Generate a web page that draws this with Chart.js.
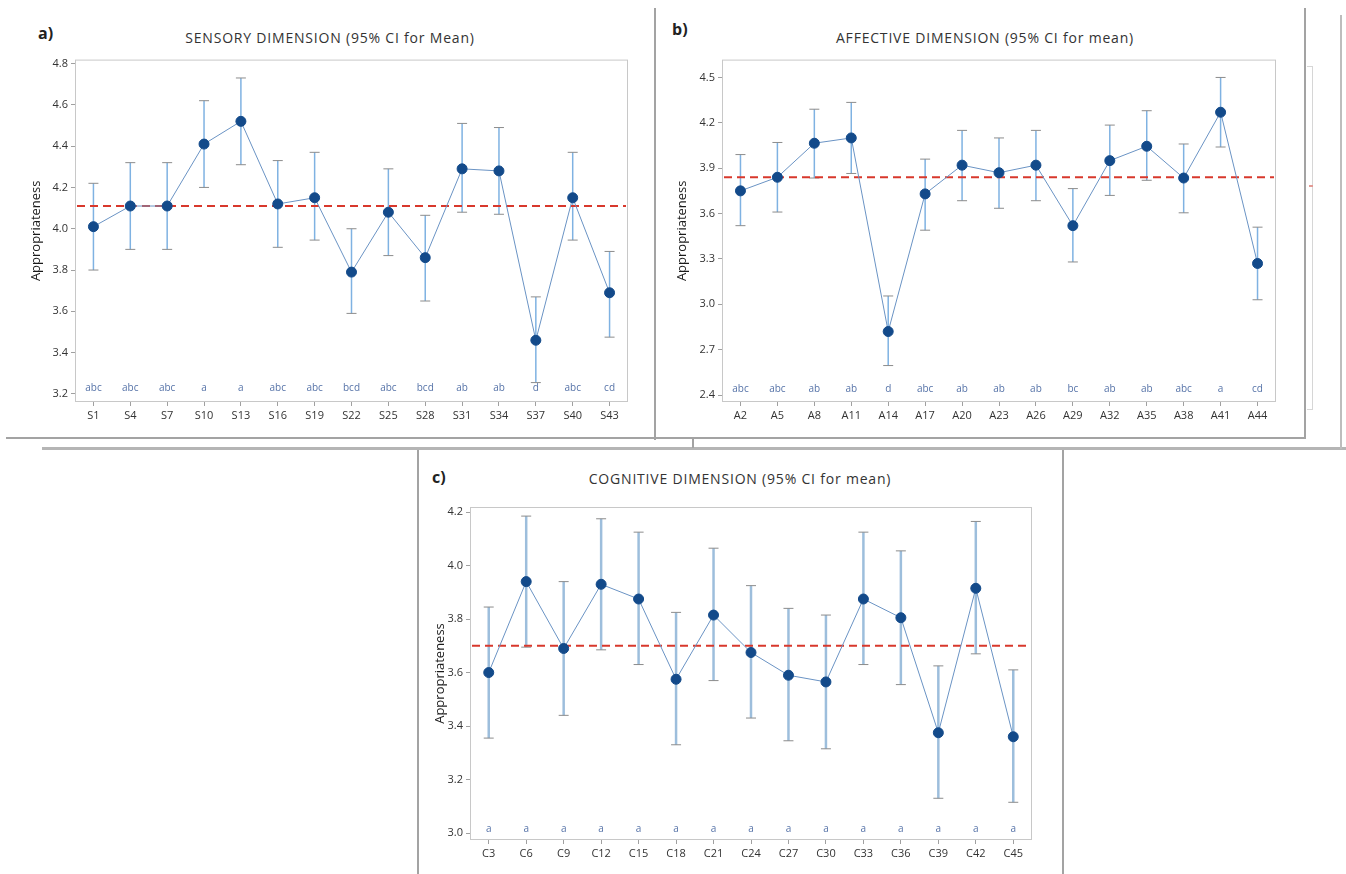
<!DOCTYPE html>
<html>
<head>
<meta charset="utf-8">
<script src="https://cdn.jsdelivr.net/npm/chart.js@4.4.1/dist/chart.umd.min.js"></script>
<style>
  html, body { margin: 0; padding: 0; background: #fff; }
  body { width: 1346px; height: 874px; position: relative; overflow: hidden; font-family: 'Open Sans', 'Noto Sans', sans-serif; }
  .ln { position: absolute; background: #a3a3a3; }
  .lt { position: absolute; background: #d6d6d6; }
  .tag { position: absolute; font-size: 16px; font-weight: bold; color: #222; }
  .ttl { position: absolute; font-size: 14px; letter-spacing: 0.8px; color: #333; text-align: center; white-space: nowrap; }
  .box { position: absolute; }
</style>
</head>
<body>

<!-- window frames of the composite -->
<div class="ln" style="left:654px;top:8px;width:2px;height:432px"></div>
<div class="ln" style="left:6px;top:437px;width:1300px;height:2px"></div>
<div class="ln" style="left:1304px;top:8px;width:2px;height:431px"></div>
<div class="ln" style="left:42px;top:447px;width:1304px;height:3px;background:#b5b5b5"></div>
<div class="ln" style="left:692px;top:439px;width:2px;height:9px"></div>
<div class="ln" style="left:1340px;top:15px;width:2px;height:434px;background:#bdbdbd"></div>
<div class="lt" style="left:1312px;top:66px;width:1px;height:344px"></div>
<div class="lt" style="left:1307px;top:66px;width:6px;height:1px"></div>
<div class="lt" style="left:1307px;top:409px;width:6px;height:1px"></div>
<div class="ln" style="left:1309px;top:185px;width:4px;height:2px;background:#e39a94"></div>
<div class="ln" style="left:417px;top:450px;width:2px;height:424px"></div>
<div class="ln" style="left:1062px;top:450px;width:2px;height:424px"></div>

<div class="tag" style="left:38px;top:22px">a)</div>
<div class="ttl" style="left:130px;top:28px;width:400px">SENSORY DIMENSION (95% CI for Mean)</div>
<div class="tag" style="left:672px;top:18px">b)</div>
<div class="ttl" style="left:785px;top:28px;width:400px">AFFECTIVE DIMENSION (95% CI for mean)</div>
<div class="tag" style="left:432px;top:466px">c)</div>
<div class="ttl" style="left:540px;top:469px;width:400px">COGNITIVE DIMENSION (95% CI for mean)</div>

<div class="box" style="left:25px;top:50px;width:615px;height:380px"><canvas id="chartA"></canvas></div>
<div class="box" style="left:671px;top:50px;width:619px;height:380px"><canvas id="chartB"></canvas></div>
<div class="box" style="left:425px;top:495px;width:620px;height:379px"><canvas id="chartC"></canvas></div>

<script>
// a) sensory
const sensoryItems = ['S1', 'S4', 'S7', 'S10', 'S13', 'S16', 'S19', 'S22', 'S25', 'S28', 'S31', 'S34', 'S37', 'S40', 'S43'];
const sensoryMean = [4.01, 4.11, 4.11, 4.41, 4.52, 4.12, 4.15, 3.79, 4.08, 3.86, 4.29, 4.28, 3.46, 4.15, 3.69];
const sensoryLower = [3.80, 3.90, 3.90, 4.20, 4.31, 3.91, 3.945, 3.59, 3.87, 3.65, 4.08, 4.07, 3.255, 3.945, 3.475];
const sensoryUpper = [4.22, 4.32, 4.32, 4.62, 4.73, 4.33, 4.37, 4.00, 4.29, 4.065, 4.51, 4.49, 3.67, 4.37, 3.89];
const sensoryGroups = ['abc', 'abc', 'abc', 'a', 'a', 'abc', 'abc', 'bcd', 'abc', 'bcd', 'ab', 'ab', 'd', 'abc', 'cd'];
const sensoryGrand = 4.11;
const sensoryTicks = [3.2, 3.4, 3.6, 3.8, 4.0, 4.2, 4.4, 4.6, 4.8];

// b) affective
const affectiveItems = ['A2', 'A5', 'A8', 'A11', 'A14', 'A17', 'A20', 'A23', 'A26', 'A29', 'A32', 'A35', 'A38', 'A41', 'A44'];
const affectiveMean = [3.75, 3.84, 4.065, 4.10, 2.82, 3.73, 3.92, 3.87, 3.92, 3.52, 3.95, 4.045, 3.835, 4.27, 3.27];
const affectiveLower = [3.52, 3.61, 3.835, 3.865, 2.595, 3.49, 3.685, 3.635, 3.685, 3.28, 3.72, 3.82, 3.605, 4.04, 3.03];
const affectiveUpper = [3.99, 4.07, 4.29, 4.335, 3.055, 3.96, 4.15, 4.10, 4.15, 3.765, 4.185, 4.28, 4.06, 4.50, 3.51];
const affectiveGroups = ['abc', 'abc', 'ab', 'ab', 'd', 'abc', 'ab', 'ab', 'ab', 'bc', 'ab', 'ab', 'abc', 'a', 'cd'];
const affectiveGrand = 3.84;
const affectiveTicks = [2.4, 2.7, 3.0, 3.3, 3.6, 3.9, 4.2, 4.5];

// c) cognitive
const cognitiveItems = ['C3', 'C6', 'C9', 'C12', 'C15', 'C18', 'C21', 'C24', 'C27', 'C30', 'C33', 'C36', 'C39', 'C42', 'C45'];
const cognitiveMean = [3.60, 3.94, 3.69, 3.93, 3.875, 3.575, 3.815, 3.675, 3.59, 3.565, 3.875, 3.805, 3.375, 3.915, 3.36];
const cognitiveLower = [3.355, 3.695, 3.44, 3.685, 3.63, 3.33, 3.57, 3.43, 3.345, 3.315, 3.63, 3.555, 3.13, 3.67, 3.115];
const cognitiveUpper = [3.845, 4.185, 3.94, 4.175, 4.125, 3.825, 4.065, 3.925, 3.84, 3.815, 4.125, 4.055, 3.625, 4.165, 3.61];
const cognitiveGroups = ['a', 'a', 'a', 'a', 'a', 'a', 'a', 'a', 'a', 'a', 'a', 'a', 'a', 'a', 'a'];
const cognitiveGrand = 3.70;
const cognitiveTicks = [3.0, 3.2, 3.4, 3.6, 3.8, 4.0, 4.2];

const FONT = "'Open Sans', 'Noto Sans', sans-serif";

// error bars, grand mean line, grouping letters and plot frame
const ciPlugin = {
  id: 'ci',
  beforeDatasetsDraw(chart, args, o) {
    const { ctx, chartArea: a, scales: { x, y } } = chart;
    ctx.save();
    o.lower.forEach((lo, i) => {
      const px = x.getPixelForValue(i);
      const y1 = y.getPixelForValue(lo), y2 = y.getPixelForValue(o.upper[i]);
      ctx.strokeStyle = o.barColor;
      ctx.lineWidth = o.barWidth;
      ctx.beginPath(); ctx.moveTo(px, y1); ctx.lineTo(px, y2); ctx.stroke();
      ctx.strokeStyle = '#8c8c8c';
      ctx.lineWidth = 1;
      ctx.beginPath();
      ctx.moveTo(px - 5, y1); ctx.lineTo(px + 5, y1);
      ctx.moveTo(px - 5, y2); ctx.lineTo(px + 5, y2);
      ctx.stroke();
    });
    const gy = y.getPixelForValue(o.grand);
    ctx.strokeStyle = '#d8382c';
    ctx.lineWidth = 2;
    ctx.setLineDash([8, 5]);
    ctx.beginPath(); ctx.moveTo(a.left + 2, gy); ctx.lineTo(a.right - 2, gy); ctx.stroke();
    ctx.restore();
  },
  afterDraw(chart, args, o) {
    const { ctx, chartArea: a, scales: { x, y } } = chart;
    ctx.save();
    ctx.strokeStyle = '#c8c8c8';
    ctx.lineWidth = 1;
    ctx.strokeRect(a.left + 0.5, a.top + 0.5, a.right - a.left - 1, a.bottom - a.top - 1);
    ctx.fillStyle = '#5673a8';
    ctx.font = '10px ' + FONT;
    ctx.textAlign = 'center';
    ctx.textBaseline = 'middle';
    const ly = y.getPixelForValue(o.letterAt);
    o.groups.forEach((g, i) => ctx.fillText(g, x.getPixelForValue(i), ly));
    ctx.restore();
  }
};

function makeChart(id, items, mean, lower, upper, groups, grand, ticks, ext) {
  return new Chart(document.getElementById(id), {
    type: 'line',
    data: {
      labels: items,
      datasets: [{
        data: mean,
        borderColor: '#6a93c4',
        borderWidth: 1,
        backgroundColor: '#134a8a',
        pointBackgroundColor: '#134a8a',
        pointBorderColor: '#134a8a',
        pointRadius: 5,
        tension: 0
      }]
    },
    options: {
      responsive: true,
      maintainAspectRatio: false,
      animation: false,
      layout: { padding: { top: ext.padTop, right: ext.padRight, left: 0, bottom: 0 } },
      plugins: {
        legend: { display: false },
        tooltip: { enabled: false },
        ci: { lower, upper, grand, groups, letterAt: ext.letterAt, barColor: ext.barColor, barWidth: ext.barWidth }
      },
      scales: {
        x: {
          offset: true,
          grid: { drawOnChartArea: false, drawTicks: true, tickLength: 4, color: '#a0a0a0' },
          border: { display: false },
          ticks: { color: '#333', font: { family: FONT, size: 11 }, padding: 3, maxRotation: 0, autoSkip: false },
          afterFit: s => { s.height = ext.xHeight; }
        },
        y: {
          min: ext.min,
          max: ext.max,
          afterBuildTicks: s => { s.ticks = ticks.map(v => ({ value: v })); },
          grid: { drawOnChartArea: false, drawTicks: true, tickLength: 4, color: '#a0a0a0' },
          border: { display: false },
          ticks: { color: '#333', font: { family: FONT, size: 11 }, padding: 3, callback: v => v.toFixed(1) },
          title: { display: true, text: 'Appropriateness', color: '#1a1a1a', font: { family: FONT, size: 13 }, padding: { top: ext.titlePad, bottom: 0 } },
          afterFit: s => { s.width = ext.yWidth; }
        }
      }
    },
    plugins: [ciPlugin]
  });
}

makeChart('chartA', sensoryItems, sensoryMean, sensoryLower, sensoryUpper, sensoryGroups, sensoryGrand, sensoryTicks,
  { min: 3.161, max: 4.819, padTop: 9, padRight: 12, xHeight: 28, yWidth: 50, titlePad: 3, letterAt: 3.228,
    barColor: '#7fb2e2', barWidth: 1.5 });

makeChart('chartB', affectiveItems, affectiveMean, affectiveLower, affectiveUpper, affectiveGroups, affectiveGrand, affectiveTicks,
  { min: 2.354, max: 4.618, padTop: 7, padRight: 14, xHeight: 28, yWidth: 51, titlePad: 3, letterAt: 2.436,
    barColor: '#7fb2e2', barWidth: 1.5 });

makeChart('chartC', cognitiveItems, cognitiveMean, cognitiveLower, cognitiveUpper, cognitiveGroups, cognitiveGrand, cognitiveTicks,
  { min: 2.974, max: 4.219, padTop: 12, padRight: 13, xHeight: 34, yWidth: 45, titlePad: 7, letterAt: 3.013,
    barColor: '#9dbedc', barWidth: 2.5 });
</script>
</body>
</html>
